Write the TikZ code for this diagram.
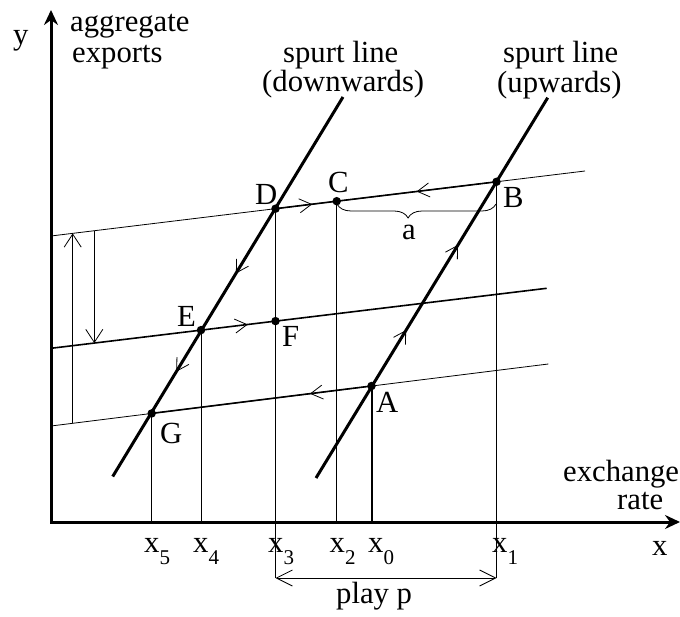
\documentclass[tikz,border=0pt]{standalone}
\usepackage{fontspec}
\setmainfont{Liberation Serif}
\usetikzlibrary{arrows.meta,decorations.markings,decorations.pathreplacing}
\newcommand\bigfnt{\fontsize{30.7}{30.7}\selectfont}
\newcommand\subfnt[1]{\raisebox{-12pt}{\fontsize{21}{21}\selectfont #1}}
\tikzset{
  thickln/.style={line width=3pt},
  medln/.style={line width=1.6pt},
  thinln/.style={line width=0.8pt},
  dot/.style={circle, fill=black, inner sep=0pt, minimum size=8.5pt},
  lab/.style={inner sep=0pt, anchor=base west, font=\bigfnt},
  mybarb/.tip={Straight Barb[length=12pt,width=14pt,line width=0.8pt]},
  marr/.style={postaction={decorate,
     decoration={markings, mark=at position #1 with {\arrow{mybarb}}}}},
  axtip/.tip={Stealth[length=15pt,width=14pt,inset=5pt]},
  vtip/.tip={Straight Barb[length=13pt,width=17pt]},
  ptip/.tip={Straight Barb[length=16pt,width=16pt]}
}
\begin{document}
\begin{tikzpicture}[x=1pt,y=-1pt]
\useasboundingbox (0,0) rectangle (680,617);
% key coordinates
\coordinate (O) at (51,522);
\coordinate (Ytip) at (51,10);
\coordinate (Xtip) at (680,522);
\coordinate (U0) at (51,236);   \coordinate (U1) at (585,171);
\coordinate (M0) at (51,348.3); \coordinate (M1) at (546.7,288.3);
\coordinate (L0) at (51,426);   \coordinate (L1) at (548.3,364);
\coordinate (DL0) at (112.7,476.5); \coordinate (DL1) at (343,97);
\coordinate (UL0) at (316,478);     \coordinate (UL1) at (547.7,97.7);
\coordinate (PL) at (275.5,578); \coordinate (PR) at (496.5,578);
\coordinate (a1s) at (72.7,423.3); \coordinate (a1e) at (72.7,233.4);
\coordinate (a2s) at (94.3,230.7); \coordinate (a2e) at (94.3,343.1);
\coordinate (brL) at (337,204); \coordinate (brR) at (496,204);
% points
\node[dot] (D) at (275.5,208.7) {};
\node[dot] (C) at (336.7,201.2) {};
\node[dot] (B) at (496.5,181.8) {};
\node[dot] (E) at (201,330.1) {};
\node[dot] (F) at (275.5,321.1) {};
\node[dot] (G) at (151.7,413.4) {};
\node[dot] (A) at (371.5,386) {};
% horizontal lines
\draw[thinln] (U0) -- (U1);
\draw[medln, marr=0.6] (D.center) -- (C.center);
\draw[medln, marr=0.5] (B.center) -- (C.center);
\draw[medln, marr=0.397] (M0) -- (M1);
\draw[thinln] (L0) -- (L1);
\draw[medln, marr=0.28] (A.center) -- (G.center);
% spurt lines
\draw[thickln, marr=0.465, marr=0.724] (DL1) -- (DL0);
\draw[thickln, marr=0.389, marr=0.613] (UL0) -- (UL1);
% verticals
\draw[thinln] (G.center) -- (G |- O);
\draw[thinln] (E.center) -- (E |- O);
\draw[line width=1.8pt] (D.center) -- (PL);
\draw[thinln] (C.center) -- (C |- O);
\draw[line width=2pt] (A.center) -- (A |- O);
\draw[line width=1.3pt] (B.center) -- (PR);
% left shift arrows
\draw[thinln, -vtip] (a1s) -- (a1e);
\draw[thinln, -vtip] (a2s) -- (a2e);
% play arrow
\draw[thinln, ptip-ptip] (PL) -- (PR);
% brace
\draw[thinln, decorate, decoration={brace, mirror, amplitude=14pt, aspect=0.447}] (brL) -- (brR);
% axes
\draw[thickln, line join=miter, axtip-axtip] (Ytip) -- (O) -- (Xtip);
% texts
\node[lab] (ty) at (13,45) {y};
\node[lab] (tagg) at (70,32) {aggregate};
\node[lab] (texp) at (72,63) {exports};
\node[lab] (tsd1) at (283,63) {spurt line};
\node[lab] (tsd2) at (262,92) {(downwards)};
\node[lab] (tsu1) at (503,63) {spurt line};
\node[lab] (tsu2) at (497,93) {(upwards)};
\node[lab] (tex1) at (563,481) {exchange};
\node[lab] (tex2) at (617,509) {rate};
\node[lab] (tx) at (652,555) {x};
\node[lab] (tD) at (255,205) {D};
\node[lab] (tC) at (328,193) {C};
\node[lab] (tB) at (503,208) {B};
\node[lab] (ta) at (402,240) {a};
\node[lab] (tE) at (177,326.5) {E};
\node[lab] (tF) at (282,346.5) {F};
\node[lab] (tG) at (160,443) {G};
\node[lab] (tA) at (376,413) {A};
\node[lab] (tx5) at (144,552) {x\subfnt{5}};
\node[lab] (tx4) at (193,552) {x\subfnt{4}};
\node[lab] (tx3) at (268,552) {x\subfnt{3}};
\node[lab] (tx2) at (329.5,552) {x\subfnt{2}};
\node[lab] (tx0) at (368,552) {x\subfnt{0}};
\node[lab] (tx1) at (492,552) {x\subfnt{1}};
\node[lab] (tplay) at (336,603) {play p};
\end{tikzpicture}
\end{document}
